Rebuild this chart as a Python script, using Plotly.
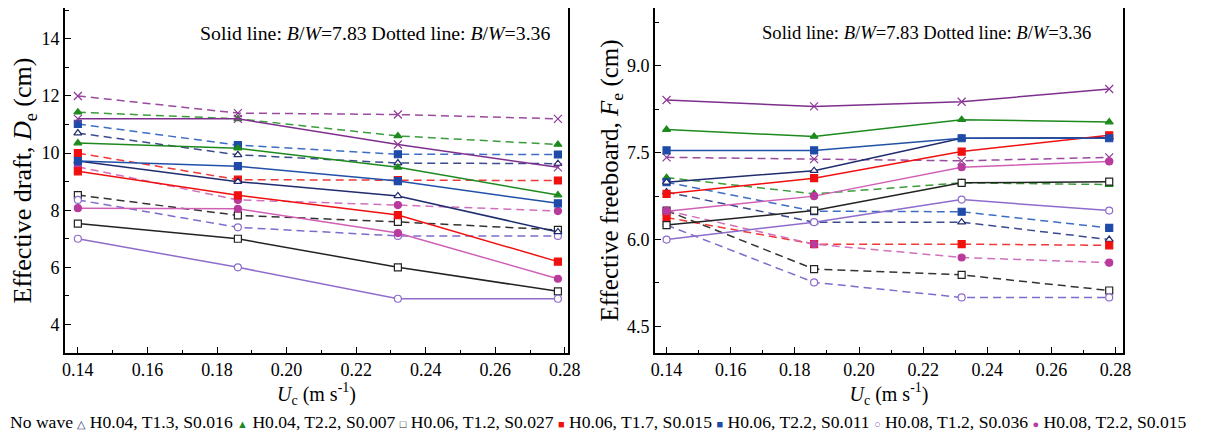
import plotly.graph_objects as go

# ---------------- data ----------------
Uc = [0.14, 0.186, 0.232, 0.278]

conditions = ["No wave", "H0.04, T1.3, S0.016", "H0.04, T2.2, S0.007",
              "H0.06, T1.2, S0.027", "H0.06, T1.7, S0.015", "H0.06, T2.2, S0.011",
              "H0.08, T1.2, S0.036", "H0.08, T2.2, S0.015"]

# Effective draft De (cm), B/W = 7.83 (solid)
draft_bw783 = [
    [11.2, 11.2, 10.3, 9.5],
    [9.72, 9.0, 8.5, 7.24],
    [10.35, 10.17, 9.5, 8.53],
    [7.53, 7.0, 6.0, 5.16],
    [9.36, 8.52, 7.83, 6.2],
    [9.72, 9.54, 9.02, 8.24],
    [7.0, 6.0, 4.9, 4.9],
    [8.07, 8.05, 7.2, 5.6],
]
# Effective draft De (cm), B/W = 3.36 (dotted)
draft_bw336 = [
    [12.0, 11.4, 11.35, 11.2],
    [10.7, 9.94, 9.65, 9.63],
    [11.43, 11.2, 10.6, 10.3],
    [8.53, 7.82, 7.59, 7.31],
    [10.0, 9.07, 9.05, 9.04],
    [11.02, 10.28, 9.96, 9.95],
    [8.36, 7.4, 7.1, 7.1],
    [9.52, 8.36, 8.18, 7.97],
]
# Effective freeboard Fe (cm), B/W = 7.83 (solid)
freeboard_bw783 = [
    [8.41, 8.3, 8.38, 8.6],
    [6.99, 7.19, 7.75, 7.76],
    [7.9, 7.78, 8.07, 8.03],
    [6.25, 6.5, 6.98, 7.0],
    [6.79, 7.06, 7.52, 7.8],
    [7.54, 7.54, 7.75, 7.75],
    [6.0, 6.3, 6.69, 6.5],
    [6.49, 6.75, 7.25, 7.35],
]
# Effective freeboard Fe (cm), B/W = 3.36 (dotted)
freeboard_bw336 = [
    [7.42, 7.39, 7.36, 7.42],
    [6.82, 6.3, 6.3, 6.0],
    [7.07, 6.79, 6.98, 6.95],
    [6.5, 5.49, 5.39, 5.12],
    [6.38, 5.92, 5.92, 5.9],
    [6.99, 6.49, 6.48, 6.2],
    [6.25, 5.26, 5.0, 5.0],
    [6.5, 5.92, 5.69, 5.6],
]

draft_ticks = [4, 6, 8, 10, 12, 14]
freeboard_ticks = [4.5, 6.0, 7.5, 9.0]
x_ticks = [0.14, 0.16, 0.18, 0.20, 0.22, 0.24, 0.26, 0.28]
x_minor = [0.15, 0.17, 0.19, 0.21, 0.23, 0.25, 0.27]
freeboard_minor = [5.25, 6.75, 8.25, 9.75]

# ---------------- styles ----------------
solid_colors = ["#7E2F8E", "#1F2C6E", "#1E8A1E", "#222222", "#F01010", "#2150A8", "#8E6CCB", "#D060B6"]
dash_colors = ["#9A4B9E", "#3B4B8E", "#3C9C3C", "#333333", "#F03838", "#3E6EC4", "#7C6CCC", "#D070BC"]
marker_colors = ["#8E3A96", "#1F2C6E", "#1E8A1E", "#222222", "#F01010", "#1E4AA8", "#8E6CCB", "#B83A9C"]
symbols = ["x-thin-open", "triangle-up", "triangle-up", "square", "square", "square", "circle", "circle"]
hollow = [False, True, False, True, False, False, True, False]
legend_glyphs = ["", "\u25B3", "\u25B2", "\u25A1", "\u25A0", "\u25A0", "\u25CB", "\u25CF"]

FONT = "Liberation Serif, Times New Roman, serif"

fig = go.Figure()


def add_series(xa, ya, values, dashed):
    for i, yv in enumerate(values):
        lc = dash_colors[i] if dashed else solid_colors[i]
        fig.add_trace(go.Scatter(
            x=Uc, y=yv, xaxis=xa, yaxis=ya, mode="lines+markers",
            showlegend=False, name=conditions[i],
            line=dict(color=lc, width=1.5, dash="8px,5px" if dashed else "solid"),
            marker=dict(symbol=symbols[i], size=8 if i == 0 else 7,
                        color="white" if hollow[i] else marker_colors[i],
                        line=dict(color=marker_colors[i], width=1.2)),
        ))


add_series("x", "y", draft_bw336, True)
add_series("x", "y", draft_bw783, False)
add_series("x2", "y2", freeboard_bw336, True)
add_series("x2", "y2", freeboard_bw783, False)

# page body has an 8 px margin: the figure is drawn 8 px in from the window edge
OFF = 8
W, H = 1211 - OFF, 441 - OFF
L1, R1 = 65 - OFF, 568 - OFF
L2, R2 = 655 - OFF, 1123 - OFF
T, B = 8 - OFF, 353 - OFF

axis_common = dict(
    showline=True, linecolor="black", linewidth=1.6, mirror=True,
    showgrid=False, zeroline=False, ticks="inside", tickcolor="black",
    tickwidth=1.4, ticklen=6, tickfont=dict(family=FONT, size=18, color="black"),
)
minor_x = dict(tickvals=x_minor, ticks="inside", ticklen=3, tickwidth=1.2, tickcolor="black")
xtitle = "<i>U</i><sub>c</sub> (m s<sup>-1</sup>)"

fig.update_layout(
    width=W, height=H, template="none", showlegend=False,
    paper_bgcolor="white", plot_bgcolor="white",
    font=dict(family=FONT, color="black"),
    margin=dict(l=0, r=0, t=0, b=0),
    xaxis=dict(domain=[L1 / W, R1 / W], range=[0.1363, 0.2809],
               tickvals=x_ticks, tickformat=".2f", minor=minor_x,
               title=dict(text=xtitle, font=dict(family=FONT, size=20), standoff=6),
               **axis_common),
    yaxis=dict(domain=[1 - B / H, 1 - T / H], range=[3.0, 15.08],
               tickvals=draft_ticks,
               minor=dict(dtick=1, tick0=0, ticks="inside", ticklen=4, tickwidth=1.2, tickcolor="black"),
               title=dict(text="Effective draft, <i>D</i><sub>e</sub> (cm)",
                          font=dict(family=FONT, size=26), standoff=2),
               **axis_common),
    xaxis2=dict(domain=[L2 / W, R2 / W], range=[0.1364, 0.2823], anchor="y2",
                tickvals=x_ticks, tickformat=".2f", minor=minor_x,
                title=dict(text=xtitle, font=dict(family=FONT, size=20), standoff=6),
                **axis_common),
    yaxis2=dict(domain=[1 - B / H, 1 - T / H], range=[4.04, 10.0], anchor="x2",
                tickvals=freeboard_ticks, tickformat=".1f",
                minor=dict(tickvals=freeboard_minor, ticks="inside", ticklen=4,
                           tickwidth=1.2, tickcolor="black"),
                title=dict(text="Effective freeboard, <i>F</i><sub>e</sub> (cm)",
                           font=dict(family=FONT, size=25), standoff=0),
                **axis_common),
)

note = "Solid line: <i>B</i>/<i>W</i>=7.83 Dotted line: <i>B</i>/<i>W</i>=3.36"
fig.add_annotation(text=note, xref="x domain", yref="y domain", x=0.968, y=0.928,
                   xanchor="right", yanchor="middle", showarrow=False,
                   font=dict(family=FONT, size=19.8, color="black"))
fig.add_annotation(text=note, xref="x2 domain", yref="y2 domain", x=0.936, y=0.928,
                   xanchor="right", yanchor="middle", showarrow=False,
                   font=dict(family=FONT, size=18.6, color="black"))

# legend row (built from the condition names and marker styles)
parts = []
for i, name in enumerate(conditions):
    g = legend_glyphs[i]
    if g:
        parts.append("<span style='color:%s;font-size:11px'>%s</span>" % (marker_colors[i], g))
    parts.append(name)
legend_text = " ".join(parts)
fig.add_annotation(text=legend_text, xref="paper", yref="paper", x=0, y=1 - (422 - OFF) / H,
                   xanchor="left", yanchor="middle", showarrow=False,
                   font=dict(family=FONT, size=17.6, color="black"))

fig.write_html("out.html")
